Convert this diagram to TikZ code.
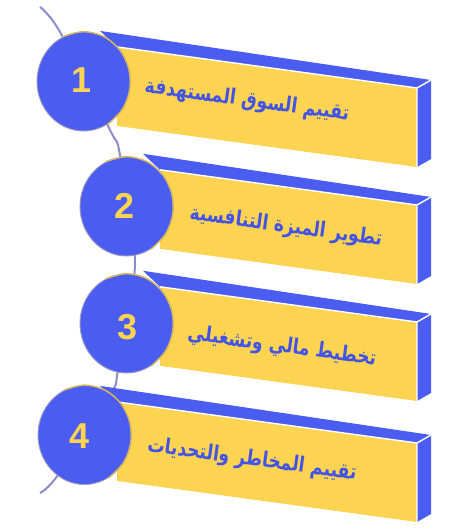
\documentclass[tikz,border=0pt]{standalone}
\usepackage{fontspec}
\setmainfont{Liberation Sans}
\newfontfamily\arabicfont[Script=Arabic]{DejaVu Sans}
\TeXXeTstate=1
\usetikzlibrary{shapes.geometric}
\definecolor{bblue}{HTML}{4B5CF0}
\definecolor{byel}{HTML}{FDD352}
\definecolor{tblue}{HTML}{4253E6}
\definecolor{cgold}{HTML}{D8B65A}
\definecolor{crim}{HTML}{A09CC0}
\definecolor{lline}{HTML}{8C8CC8}
\newcommand{\bannerfaces}[2]{%
  \pgfmathsetmacro\yL{#1-0.137*(417-#2)}%
  \fill[bblue] (#2-17,\yL-16) -- (431,#1-8) -- (417,#1) -- (#2,\yL) -- cycle;
  \fill[byel] (#2,\yL) -- (417,#1) -- (417,#1+79) -- (#2,\yL+79) -- cycle;
  \fill[bblue] (417,#1) -- (431,#1-8) -- (431,#1+71) -- (417,#1+79) -- cycle;
  \draw[white,line width=1.4,line join=round] (#2,\yL) -- (417,#1) -- (431,#1-8) (417,#1) -- (417,#1+79);
}
\newcommand{\goldrim}[1]{%
  \draw[cgold, line width=1.3, line cap=round] plot[smooth] coordinates {(#1.115) (#1.90) (#1.65) (#1.40) (#1.15) (#1.-10) (#1.-35) (#1.-60)};
}
\tikzset{
  circ/.style={ellipse, fill=bblue, draw=crim, line width=0.9, minimum width=93, minimum height=99, inner sep=0},
  num/.style={text=byel, font=\bfseries\fontsize{36}{40}\selectfont, inner sep=0},
  lab/.style={text=tblue, font=\arabicfont\bfseries\fontsize{21}{24}\selectfont, inner sep=1, rotate=-7.8, xscale=0.82},
  conn/.style={draw=lline, line width=2}
}
\begin{document}
\begin{tikzpicture}[x=1pt,y=-1pt]
\useasboundingbox (0,0) rectangle (472,529);
% connector line
\coordinate (p0) at (40,7);
\coordinate (p1) at (60,32);
\coordinate (p2) at (110,130);
\coordinate (p3) at (120,155);
\coordinate (p4) at (135,262);
\coordinate (p5) at (118,370);
\coordinate (p6) at (110,395);
\coordinate (p7) at (58,475);
\coordinate (p8) at (40,493);
\draw[conn] plot[smooth, tension=0.55] coordinates {(p0) (p1) (p2) (p3) (p4) (p5) (p6) (p7) (p8)};
% banners
\bannerfaces{88}{117}
\bannerfaces{205}{160}
\bannerfaces{322}{160}
\bannerfaces{443}{117}
% labels
\node[lab] (t1) at (247,101) {\beginR تقييم السوق المستهدفة\endR};
\node[lab] (t2) at (286,227) {\beginR تطوير الميزة التنافسية\endR};
\node[lab] (t3) at (282,347) {\beginR تخطيط مالي وتشغيلي\endR};
\node[lab] (t4) at (252,460) {\beginR تقييم المخاطر والتحديات\endR};
% circles
\node[circ] (c1) at (83.5,81.5) {};
\node[circ] (c2) at (126.5,206.5) {};
\node[circ] (c3) at (126.5,323.5) {};
\node[circ] (c4) at (84.5,435) {};
\goldrim{c1}
\goldrim{c2}
\goldrim{c3}
\goldrim{c4}
\node[num] (n1) at (82,80) {1};
\node[num] (n2) at (125,206) {2};
\node[num] (n3) at (128,327) {3};
\node[num] (n4) at (80,436) {4};
\end{tikzpicture}
\end{document}
